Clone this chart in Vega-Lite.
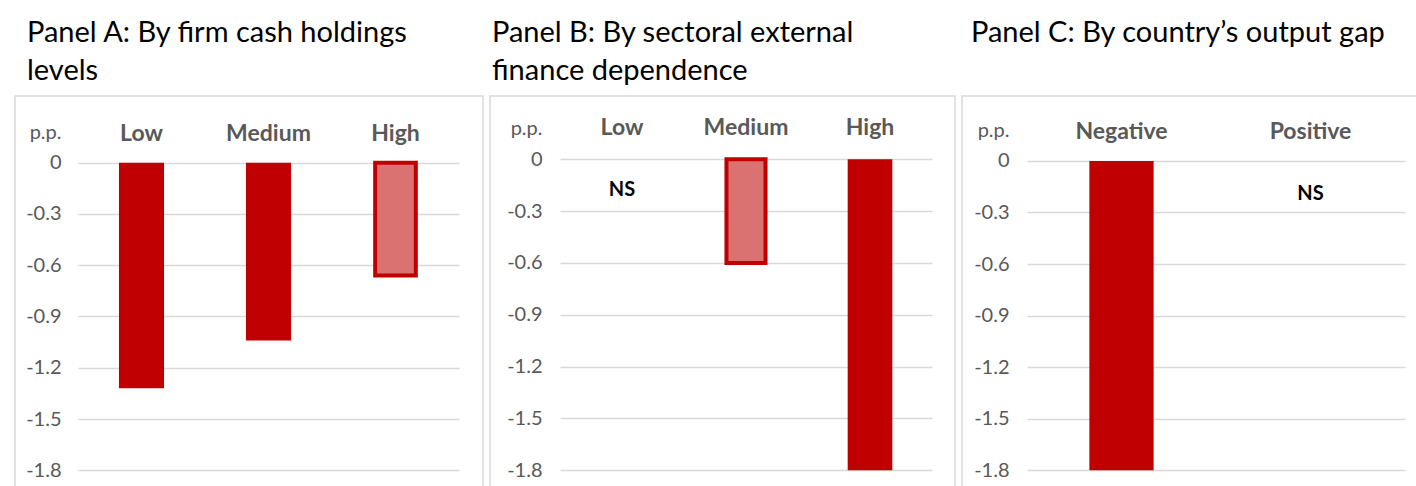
{
  "$schema": "https://vega.github.io/schema/vega-lite/v6.json",
  "background": "white",
  "padding": {"left": 14, "top": 18, "right": 0, "bottom": 0},
  "spacing": 7,
  "bounds": "flush",
  "datasets": {
    "a": [
      {"category": "Low", "effect": -1.32, "significance": "significant"},
      {"category": "Medium", "effect": -1.04, "significance": "significant"},
      {"category": "High", "effect": -0.66, "significance": "weak"}
    ],
    "b": [
      {"category": "Low", "effect": null, "significance": "NS"},
      {"category": "Medium", "effect": -0.60, "significance": "weak"},
      {"category": "High", "effect": -1.80, "significance": "significant"}
    ],
    "c": [
      {"category": "Negative", "effect": -1.80, "significance": "significant"},
      {"category": "Positive", "effect": null, "significance": "NS"}
    ]
  },
  "hconcat": [
    {
      "width": 468,
      "height": 395,
      "data": {"name": "a"},
      "title": {"text": ["Panel A: By firm cash holdings", "levels"], "dx": 12},
      "layer": [
        {"transform": [{"filter": "datum.significance == 'significant'"}],
         "mark": {"type": "bar", "color": "#C00000", "width": {"band": 0.355}},
         "encoding": {
           "x": {"field": "category", "type": "nominal", "sort": ["Low", "Medium", "High"],
                 "scale": {"range": [63, 444], "paddingInner": 0, "paddingOuter": 0},
                 "axis": {"orient": "top", "offset": -44, "title": null, "labelAngle": 0, "grid": false}},
           "y": {"field": "effect", "type": "quantitative",
                 "scale": {"domain": [-1.921, 0.39], "nice": false},
                 "axis": {"values": [0, -0.3, -0.6, -0.9, -1.2, -1.5, -1.8], "offset": -46, "title": "p.p.", "titleY": 42}},
           "y2": {"datum": 0}}},
        {"transform": [{"filter": "datum.significance == 'weak'"}],
         "mark": {"type": "bar", "fill": "#da7272", "stroke": "#C00000", "strokeWidth": 4, "width": {"band": 0.32}},
         "encoding": {
           "x": {"field": "category", "type": "nominal", "sort": ["Low", "Medium", "High"]},
           "y": {"field": "effect", "type": "quantitative"},
           "y2": {"datum": 0}}}
      ]
    },
    {
      "width": 465,
      "height": 395,
      "data": {"name": "b"},
      "title": {"text": ["Panel B: By sectoral external", "finance dependence"], "dx": 2},
      "layer": [
        {"transform": [{"filter": "datum.significance == 'significant'"}],
         "mark": {"type": "bar", "color": "#C00000", "width": {"band": 0.36}},
         "encoding": {
           "x": {"field": "category", "type": "nominal", "sort": ["Low", "Medium", "High"],
                 "scale": {"domain": ["Low", "Medium", "High"], "range": [70, 442], "paddingInner": 0, "paddingOuter": 0},
                 "axis": {"orient": "top", "offset": -38, "title": null, "labelAngle": 0, "grid": false}},
           "y": {"field": "effect", "type": "quantitative",
                 "scale": {"domain": [-1.92, 0.366], "nice": false},
                 "axis": {"values": [0, -0.3, -0.6, -0.9, -1.2, -1.5, -1.8], "offset": -52, "title": "p.p.", "titleY": 38}},
           "y2": {"datum": 0}}},
        {"transform": [{"filter": "datum.significance == 'weak'"}],
         "mark": {"type": "bar", "fill": "#da7272", "stroke": "#C00000", "strokeWidth": 4, "width": {"band": 0.315}},
         "encoding": {
           "x": {"field": "category", "type": "nominal"},
           "y": {"field": "effect", "type": "quantitative"},
           "y2": {"datum": 0}}},
        {"transform": [{"filter": "datum.significance == 'NS'"}],
         "mark": {"type": "text", "fontWeight": "bold", "fontSize": 20, "font": "Lato", "color": "#000000", "baseline": "middle"},
         "encoding": {
           "x": {"field": "category", "type": "nominal"},
           "y": {"datum": -0.18, "type": "quantitative"},
           "text": {"field": "significance"}}}
      ]
    },
    {
      "width": 470,
      "height": 395,
      "data": {"name": "c"},
      "title": {"text": ["Panel C: By country\u2019s output gap", " "], "dx": 9},
      "layer": [
        {"transform": [{"filter": "datum.significance == 'significant'"}],
         "mark": {"type": "bar", "color": "#C00000", "width": {"band": 0.34}},
         "encoding": {
           "x": {"field": "category", "type": "nominal", "sort": ["Negative", "Positive"],
                 "scale": {"domain": ["Negative", "Positive"], "range": [65, 443], "paddingInner": 0, "paddingOuter": 0},
                 "axis": {"orient": "top", "offset": -42, "title": null, "labelAngle": 0, "grid": false}},
           "y": {"field": "effect", "type": "quantitative",
                 "scale": {"domain": [-1.921, 0.378], "nice": false},
                 "axis": {"values": [0, -0.3, -0.6, -0.9, -1.2, -1.5, -1.8], "offset": -47, "title": "p.p.", "titleY": 40}},
           "y2": {"datum": 0}}},
        {"transform": [{"filter": "datum.significance == 'NS'"}],
         "mark": {"type": "text", "fontWeight": "bold", "fontSize": 20, "font": "Lato", "color": "#000000", "baseline": "middle"},
         "encoding": {
           "x": {"field": "category", "type": "nominal"},
           "y": {"datum": -0.19, "type": "quantitative"},
           "text": {"field": "significance"}}}
      ]
    }
  ],
  "config": {
    "view": {"stroke": "#d9d9d9", "strokeWidth": 1.5},
    "title": {"anchor": "start", "frame": "group", "font": "Lato", "fontSize": 29, "fontWeight": "normal", "color": "#000000", "lineHeight": 38, "offset": 10, "baseline": "bottom"},
    "axis": {"domain": false, "ticks": false, "tickSize": 0, "labelPadding": 0, "labelFont": "Lato", "titleFont": "Lato", "gridColor": "#d9d9d9", "gridWidth": 1.3},
    "axisY": {"grid": true, "labelExpr": "datum.value + ''", "labelFontSize": 20, "labelColor": "#595959", "labelAlign": "right", "labelBaseline": "middle", "titleAngle": 0, "titleAlign": "right", "titleBaseline": "alphabetic", "titleX": 0, "titleFontSize": 20, "titleFontWeight": "normal", "titleColor": "#595959"},
    "axisX": {"labelFontSize": 23, "labelFontWeight": "bold", "labelColor": "#595959", "labelBaseline": "alphabetic"}
  }
}
